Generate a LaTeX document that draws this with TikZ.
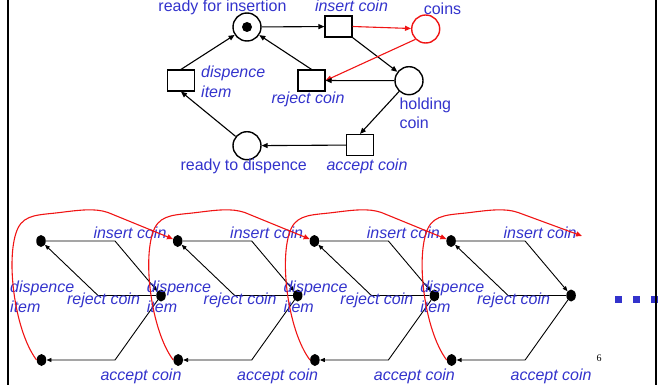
\documentclass[tikz,border=0pt]{standalone}
\usepackage{fontspec}
\setmainfont{Liberation Sans}
\newfontfamily\numfont{Liberation Serif}
\usetikzlibrary{arrows.meta,shapes.geometric}
\definecolor{lblue}{RGB}{51,51,204}
\definecolor{netred}{RGB}{240,20,20}
\begin{document}
\begin{tikzpicture}[x=1pt,y=-1pt,
  place/.style={circle,draw,line width=1.4pt,minimum size=28pt,inner sep=0pt},
  redplace/.style={place,draw=netred},
  token/.style={circle,fill=black,minimum size=10pt,inner sep=0pt},
  trans/.style={rectangle,draw,line width=1.2pt,minimum width=27pt,minimum height=21pt,inner sep=0pt},
  arc/.style={line width=1.1pt,-{Triangle[length=6pt,width=5pt]}},
  redarc/.style={arc,draw=netred,color=netred},
  flow/.style={line width=0.9pt,-{Triangle[length=5pt,width=4pt]}},
  redflow/.style={line width=1.1pt,draw=netred,color=netred,-{Triangle[length=6pt,width=5pt]}},
  lbl/.style={text=lblue,font=\fontsize{16}{19}\selectfont,inner sep=0pt},
  ilbl/.style={text=lblue,font=\fontsize{16}{19}\selectfont\itshape,inner sep=0pt},
  state/.style={ellipse,fill=black,minimum width=9.5pt,minimum height=12pt,inner sep=0pt},
  frame/.style={line width=2.5pt},
  more/.style={fill=lblue,minimum width=6.5pt,minimum height=6.5pt,inner sep=0pt}
]
\useasboundingbox (0,0) rectangle (664,385);

% ---- Petri net of the vending machine ----
\node[place] (rfi) at (247,27) {};
\node[token] (tok) at (rfi) {};
\node[trans] (ins) at (338.5,26.5) {};
\node[redplace] (coins) at (425.7,29) {};
\node[place] (hold) at (409,80.7) {};
\node[trans] (rej) at (311.5,80.5) {};
\node[trans] (disp) at (181,80.5) {};
\node[place] (rtd) at (247,145.7) {};
\node[trans] (acc) at (360,145) {};

\draw[arc] (rfi) -- (ins);
\draw[redarc] (ins.east) -- (coins);
\draw[arc] (ins.south east) -- (hold);
\draw[redarc] (coins.south west) -- (rej.east);
\draw[arc] (hold) -- (rej);
\draw[arc] (rej.north) -- (rfi);
\draw[arc] (hold) -- (acc.north);
\draw[arc] (acc) -- (rtd);
\draw[arc] (rtd) -- (disp.south);
\draw[arc] (disp.north) -- (rfi);

\node[lbl,anchor=base] (l-rfi) at (222.5,12) {ready for insertion};
\node[ilbl,anchor=base] (l-ins) at (351.5,12) {insert coin};
\node[lbl,anchor=base] (l-coins) at (442.5,15) {coins};
\node[lbl,anchor=base west] (l-hold1) at (399.3,109.5) {holding};
\node[lbl,anchor=base west] (l-hold2) at (399.3,128.3) {coin};
\node[ilbl,anchor=base] (l-rej) at (308,104) {reject coin};
\node[ilbl,anchor=base west] (l-disp1) at (201,78) {dispence};
\node[ilbl,anchor=base west] (l-disp2) at (201,97.5) {item};
\node[lbl,anchor=base] (l-rtd) at (243.7,170.5) {ready to dispence};
\node[ilbl,anchor=base] (l-acc) at (367,170.5) {accept coin};

% ---- unfolded behaviour, one stage per cycle ----
\coordinate (T4) at (582,236);
\foreach \i in {0,1,2,3}{
  \pgfmathsetmacro{\ox}{136.7*\i}
  \node[state] (T\i) at (41+\ox,241) {};
  \node[state] (M\i) at (161+\ox,295.5) {};
  \node[state] (B\i) at (41.5+\ox,360) {};
  \draw[flow] (T\i) -- (115+\ox,241) -- (M\i);
  \draw[flow] (M\i) -- (98+\ox,295.5) -- (T\i);
  \draw[flow] (M\i) -- (115+\ox,360) -- (B\i);
  \node[ilbl,anchor=base] (ui\i) at (130+\ox,238) {insert coin};
  \node[ilbl,anchor=base] (ur\i) at (103.5+\ox,304.5) {reject coin};
  \node[ilbl,anchor=base] (ua\i) at (141+\ox,380.5) {accept coin};
  \node[ilbl,anchor=base west] (ud\i) at (10+\ox,292.5) {dispence};
  \node[ilbl,anchor=base west] (uit\i) at (10+\ox,312.5) {item};
}
\foreach \i/\j in {0/1,1/2,2/3,3/4}{
  \pgfmathsetmacro{\ox}{136.7*\i}
  \draw[redflow] (B\i.west)
    .. controls (\ox+14,330) and (\ox+5,255) .. (\ox+18,228)
    .. controls (\ox+25,214) and (\ox+40,215) .. (\ox+60,212.5)
    .. controls (\ox+80,210) and (\ox+95,208) .. (\ox+108,212.5)
    -- (T\j);
}

% continuation marks and page number
\node[more] (m1) at (618.5,299.5) {};
\node[more] (m2) at (636.5,299.5) {};
\node[more] (m3) at (654.5,299.5) {};
\node[font=\numfont\fontsize{10}{12}\selectfont,anchor=base] (page) at (599,361) {6};

% page frame
\draw[frame] (8,0) -- (8,385);
\draw[frame] (656,0) -- (656,385);
\end{tikzpicture}
\end{document}
